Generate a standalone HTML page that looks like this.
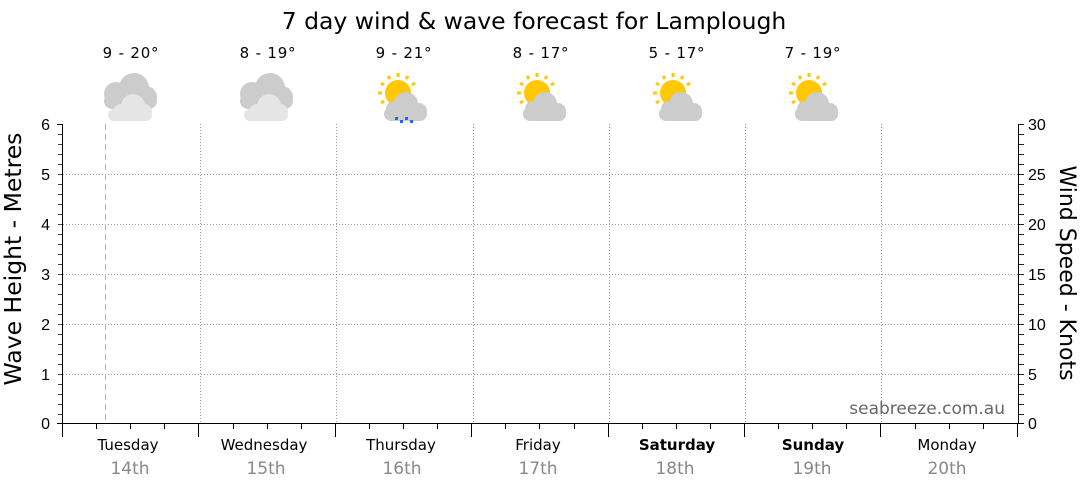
<!DOCTYPE html>
<html><head><meta charset="utf-8"><style>
html,body{margin:0;padding:0;background:#fff;width:1080px;height:490px;overflow:hidden}
text{font-family:"DejaVu Sans",sans-serif}
.lib{font-family:"Liberation Sans",sans-serif}
</style></head><body>
<svg width="1080" height="490" xmlns="http://www.w3.org/2000/svg">
<defs>
<g id="cloudy">
 <g fill="#cccccc">
  <circle cx="-14" cy="-3" r="12"/><circle cx="4" cy="-9" r="15"/><circle cx="16" cy="0" r="11"/>
  <rect x="-26" y="-4" width="53" height="16" rx="8"/>
 </g>
 <g fill="#e5e5e5">
  <circle cx="-9" cy="15" r="8"/><circle cx="3" cy="9" r="12"/><circle cx="14" cy="15" r="8"/>
  <rect x="-22" y="12" width="44" height="12" rx="6"/>
 </g>
</g>
<g id="sunc">
 <g stroke="#ffc800" stroke-width="3">
  <line x1="-4" y1="-24" x2="-4" y2="-20"/><line x1="-14" y1="-21" x2="-12" y2="-18"/><line x1="6" y1="-21" x2="4" y2="-18"/>
  <line x1="-21" y1="-14" x2="-18" y2="-12"/><line x1="13" y1="-14" x2="10" y2="-12"/>
  <line x1="-24" y1="-4" x2="-20" y2="-4"/><line x1="-21" y1="6" x2="-18" y2="4"/>
 </g>
 <circle cx="-4" cy="-4" r="13" fill="#ffc800"/>
 <g fill="#cccccc">
  <circle cx="-8" cy="12" r="8"/><circle cx="4" cy="7" r="12"/><circle cx="17" cy="14" r="8"/>
  <rect x="-18" y="10" width="43" height="14" rx="7"/>
 </g>
</g>
</defs>
<text x="534" y="29" font-size="23.5" text-anchor="middle" fill="#000">7 day wind &amp; wave forecast for Lamplough</text>
<g font-size="15" text-anchor="middle" fill="#000" letter-spacing="0.8">
 <text x="131" y="58">9 - 20°</text><text x="268" y="58">8 - 19°</text><text x="404" y="58">9 - 21°</text>
 <text x="541" y="58">8 - 17°</text><text x="677" y="58">5 - 17°</text><text x="813" y="58">7 - 19°</text>
</g>
<use href="#cloudy" x="130" y="97"/>
<use href="#cloudy" x="266" y="97"/>
<use href="#sunc" x="402" y="97"/>
<g fill="#1a66ff"><rect x="395" y="117" width="3" height="3"/><rect x="400" y="120" width="3" height="3"/><rect x="405" y="117" width="3" height="3"/><rect x="410" y="120" width="3" height="3"/></g>
<use href="#sunc" x="541" y="97"/>
<use href="#sunc" x="677" y="97"/>
<use href="#sunc" x="813" y="97"/>
<g stroke="#999" stroke-width="1" stroke-dasharray="1,2">
 <line x1="63" y1="174.5" x2="1018" y2="174.5"/><line x1="63" y1="224.5" x2="1018" y2="224.5"/>
 <line x1="63" y1="274.5" x2="1018" y2="274.5"/><line x1="63" y1="324.5" x2="1018" y2="324.5"/>
 <line x1="63" y1="374.5" x2="1018" y2="374.5"/>
 <line x1="200.5" y1="124" x2="200.5" y2="423"/><line x1="336.5" y1="124" x2="336.5" y2="423"/>
 <line x1="473.5" y1="124" x2="473.5" y2="423"/><line x1="609.5" y1="124" x2="609.5" y2="423"/>
 <line x1="745.5" y1="124" x2="745.5" y2="423"/><line x1="881.5" y1="124" x2="881.5" y2="423"/>
</g>
<line x1="105.5" y1="124" x2="105.5" y2="423" stroke="#f0a0a0" stroke-dasharray="6,4"/>
<g stroke="#000" stroke-width="1">
 <line x1="62.5" y1="124" x2="62.5" y2="424"/>
 <line x1="1018.5" y1="124" x2="1018.5" y2="424"/>
 <line x1="57" y1="423.5" x2="1024" y2="423.5"/>
 <line x1="57" y1="124.5" x2="62" y2="124.5"/>
</g>
<g id="lt" stroke="#444"></g>
<g id="rt" stroke="#222"></g>
<g id="xt" stroke="#000"></g>
<g font-size="16" fill="#000" text-anchor="end">
 <text class="lib" x="50" y="130">6</text><text class="lib" x="50" y="180">5</text><text class="lib" x="50" y="230">4</text><text class="lib" x="50" y="280">3</text><text class="lib" x="50" y="330">2</text><text class="lib" x="50" y="380">1</text><text class="lib" x="50" y="429">0</text>
</g>
<g font-size="16" fill="#000">
 <text class="lib" x="1028" y="130">30</text><text class="lib" x="1028" y="180">25</text><text class="lib" x="1028" y="230">20</text><text class="lib" x="1028" y="280">15</text><text class="lib" x="1028" y="330">10</text><text class="lib" x="1028" y="380">5</text><text class="lib" x="1028" y="429">0</text>
</g>
<text transform="translate(21,259) rotate(-90)" font-size="23.5" text-anchor="middle">Wave Height - Metres</text>
<text transform="translate(1060,273) rotate(90)" font-size="22" text-anchor="middle">Wind Speed - Knots</text>
<text x="1005" y="414" font-size="17" fill="#666" text-anchor="end">seabreeze.com.au</text>
<g font-size="15" text-anchor="middle" fill="#000">
 <text x="128" y="450">Tuesday</text><text x="264" y="450">Wednesday</text><text x="401" y="450">Thursday</text>
 <text x="538" y="450">Friday</text><text x="677" y="450" font-weight="bold">Saturday</text><text x="813" y="450" font-weight="bold">Sunday</text><text x="947" y="450">Monday</text>
</g>
<g font-size="17" text-anchor="middle" fill="#888">
 <text x="130" y="474">14th</text><text x="266" y="474">15th</text><text x="402" y="474">16th</text>
 <text x="538" y="474">17th</text><text x="675" y="474">18th</text><text x="812" y="474">19th</text><text x="947" y="474">20th</text>
</g>
</svg>
<script>
var ns="http://www.w3.org/2000/svg";
function ln(g,x1,y1,x2,y2){var l=document.createElementNS(ns,"line");l.setAttribute("x1",x1);l.setAttribute("y1",y1);l.setAttribute("x2",x2);l.setAttribute("y2",y2);document.getElementById(g).appendChild(l);}
for(var i=1;i<30;i++){var y=124+i*10+0.5;ln("lt",58,y,62,y);ln("rt",1019,y,1024,y);}
ln("rt",1019,124.5,1024,124.5);
for(var i=0;i<=28;i++){var x=Math.round(63+i*136.4/4)-0.5;ln("xt",x,423,x,(i%4==0)?437:429);}
</script>
</body></html>
